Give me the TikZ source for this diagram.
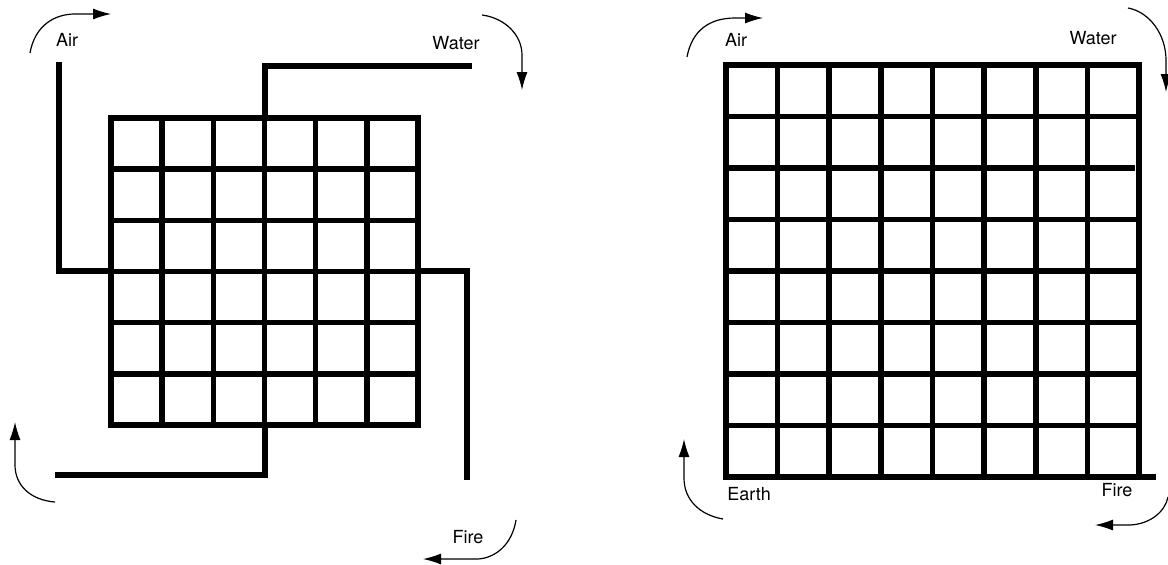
\documentclass[tikz,border=0pt]{standalone}
\usepackage{fontspec}
\setmainfont{TeX Gyre Heros}
\usetikzlibrary{arrows.meta}

\begin{document}
\begin{tikzpicture}[
    x=0.5pt, y=-0.5pt,
    wall/.style={line width=2.8pt, line join=miter, line cap=rect},
    flow/.style={line width=0.6pt, -{Latex[length=9pt,width=5.5pt]}},
    lbl/.style={font=\fontsize{9}{11}\selectfont, inner sep=0pt},
]
\useasboundingbox (0,0) rectangle (1168,564);

% left picture: 6x6 grid with four arms
\foreach \i in {0,...,6} {
  \draw[wall] ({111+51.17*\i},118) -- ({111+51.17*\i},425);
  \draw[wall] (111,{118+51.17*\i}) -- (418,{118+51.17*\i});
}
\draw[wall] (59,65) -- (59,271) -- (111,271);
\draw[wall] (265,118) -- (265,66) -- (469,66);
\draw[wall] (418,271) -- (467,271) -- (467,477);
\draw[wall] (265,425) -- (265,475) -- (58,475);

\node[lbl] (airL) at (67,40) {Air};
\node[lbl] (waterL) at (456,43) {Water};
\node[lbl] (fireL) at (468,537) {Fire};

\draw[flow] (30,53) .. controls (35,25) and (55,14) .. (75,14) -- (111,14);
\draw[flow] (482,15) .. controls (505,18) and (522,35) .. (522,55) -- (522,90);
\draw[flow] (516,520) .. controls (512,545) and (495,558) .. (478,559) -- (423,559);
\draw[flow] (55,502) .. controls (30,500) and (15,485) .. (15,465) -- (15,422);

% right picture: 8x8 grid
\foreach \i in {0,...,8} {
  \draw[wall] ({726+51.62*\i},65) -- ({726+51.62*\i},477);
}
\foreach \j in {0,1,3,4,5,6,7} {
  \draw[wall] (726,{65+51.5*\j}) -- (1139,{65+51.5*\j});
}
\draw[wall] (726,168) -- (1132,168);
\draw[wall] (726,477) -- (1153,477);

\node[lbl] (airR) at (736,40) {Air};
\node[lbl] (waterR) at (1093,38) {Water};
\node[lbl] (earthR) at (749,494) {Earth};
\node[lbl] (fireR) at (1117,490) {Fire};

\draw[flow] (687,57) .. controls (692,30) and (710,18) .. (735,18) -- (763,18);
\draw[flow] (1128,8) .. controls (1150,12) and (1166,35) .. (1166,60) -- (1166,92);
\draw[flow] (1168,497) .. controls (1165,512) and (1150,524) .. (1130,525) -- (1095,525);
\draw[flow] (723,519) .. controls (700,515) and (684,500) .. (684,478) -- (684,439);
\end{tikzpicture}
\end{document}
